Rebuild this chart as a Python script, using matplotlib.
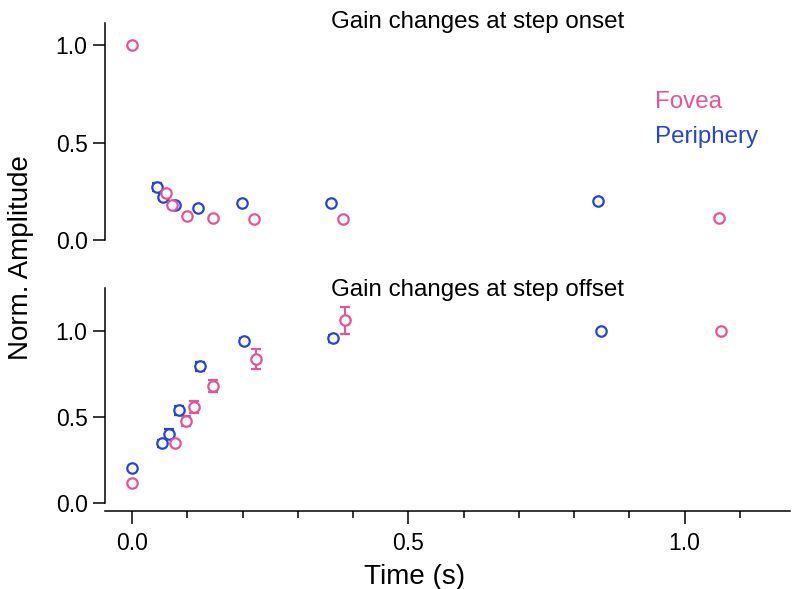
import numpy as np
import matplotlib.pyplot as plt

plt.rcParams['font.family'] = ['Liberation Sans', 'DejaVu Sans']

pink = '#e2559a'
blue = '#2446d2'

# gain changes at step onset
on_t_fov = [0.0, 0.061, 0.072, 0.100, 0.146, 0.220, 0.382, 1.063]
on_a_fov = [1.0, 0.239, 0.178, 0.123, 0.111, 0.106, 0.109, 0.113]
on_e_fov = [0.0, 0.012, 0.010, 0.008, 0.008, 0.008, 0.008, 0.008]
on_t_per = [0.045, 0.056, 0.078, 0.119, 0.199, 0.360, 0.844]
on_a_per = [0.273, 0.222, 0.178, 0.166, 0.191, 0.191, 0.202]
on_e_per = [0.020, 0.015, 0.015, 0.010, 0.008, 0.008, 0.008]

# gain changes at step offset
off_t_fov = [0.0, 0.078, 0.097, 0.112, 0.147, 0.224, 0.386, 1.066]
off_a_fov = [0.116, 0.351, 0.475, 0.558, 0.680, 0.839, 1.062, 1.0]
off_e_fov = [0.010, 0.015, 0.028, 0.037, 0.034, 0.057, 0.080, 0.0]
off_t_per = [0.0, 0.055, 0.066, 0.085, 0.122, 0.203, 0.363, 0.849]
off_a_per = [0.205, 0.347, 0.403, 0.539, 0.795, 0.942, 0.959, 0.998]
off_e_per = [0.010, 0.020, 0.025, 0.025, 0.025, 0.015, 0.020, 0.0]

fig = plt.figure(figsize=(7.92, 5.89), dpi=100)
ax1 = fig.add_axes([0.1326, 0.5925, 0.8644, 0.3685])
ax2 = fig.add_axes([0.1326, 0.146, 0.8644, 0.365], sharex=ax1)

def pts(ax, t, a, e, c):
    ax.errorbar(t, a, yerr=e, fmt='o', ms=7.5, mfc='white', mec=c, mew=1.6,
                ecolor=c, elinewidth=1.5, capsize=3.5, capthick=1.5,
                color=c, zorder=3)

pts(ax1, on_t_per, on_a_per, on_e_per, blue)
pts(ax1, on_t_fov, on_a_fov, on_e_fov, pink)
pts(ax2, off_t_per, off_a_per, off_e_per, blue)
pts(ax2, off_t_fov, off_a_fov, off_e_fov, pink)

for ax in (ax1, ax2):
    for s in ('top', 'right'):
        ax.spines[s].set_visible(False)
    ax.spines['left'].set_linewidth(1.1)
    ax.spines['bottom'].set_linewidth(1.1)
    ax.set_yticks([0.0, 0.5, 1.0])
    ax.set_yticklabels(['0.0', '0.5', '1.0'])
    ax.tick_params(axis='y', length=8.6, width=1.1, pad=4, labelsize=16.5)

ax1.set_ylim(0, 1.113)
ax2.set_ylim(0, 1.25)
ax1.spines['bottom'].set_visible(False)
ax1.tick_params(axis='x', which='both', bottom=False, labelbottom=False)

ax2.set_xlim(-0.049, 1.19)
ax2.spines['bottom'].set_position(('outward', 5.8))
ax2.set_xticks([0.0, 0.5, 1.0])
ax2.set_xticklabels(['0.0', '0.5', '1.0'])
ax2.set_xticks(np.arange(0.1, 1.2, 0.1), minor=True)
ax2.tick_params(axis='x', which='major', length=9, width=1.1, pad=6, labelsize=16.5)
ax2.tick_params(axis='x', which='minor', length=4.8, width=1.1)

fig.text(0.603, 0.963, 'Gain changes at step onset', ha='center', va='center', fontsize=17.4)
fig.text(0.603, 0.508, 'Gain changes at step offset', ha='center', va='center', fontsize=17.4)
fig.text(0.827, 0.827, 'Fovea', color=pink, ha='left', va='center', fontsize=17.4)
fig.text(0.827, 0.767, 'Periphery', color=blue, ha='left', va='center', fontsize=17.4)
fig.text(0.027, 0.562, 'Norm. Amplitude', rotation=90, ha='center', va='center', fontsize=20)
fig.text(0.524, 0.0204, 'Time (s)', ha='center', va='center', fontsize=20)

fig.savefig('out.png', dpi=100)
